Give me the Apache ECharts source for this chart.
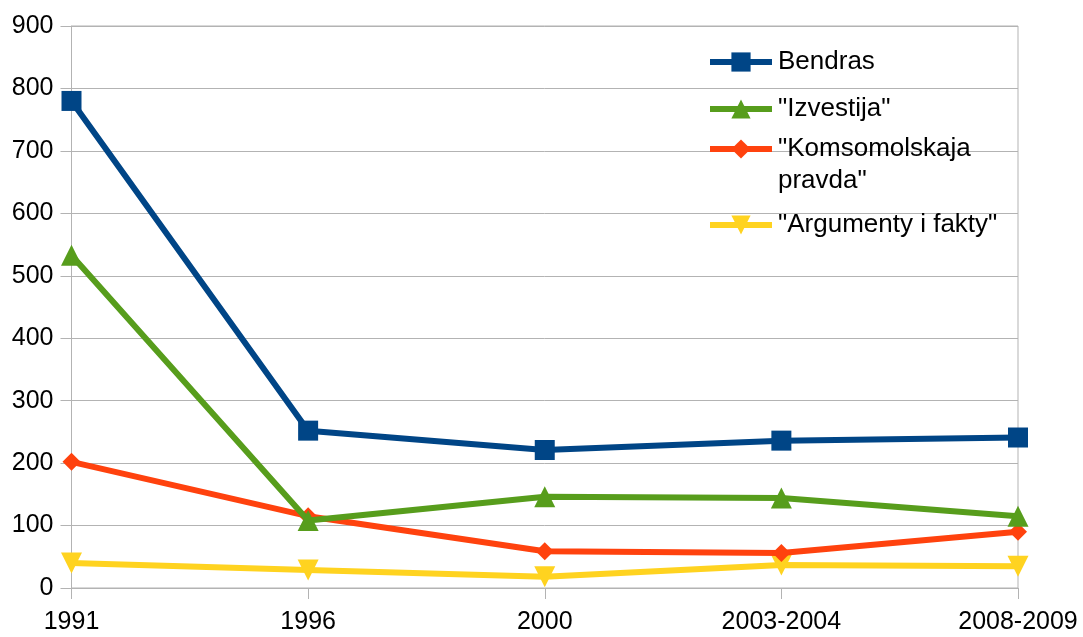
<!DOCTYPE html>
<html>
<head>
<meta charset="utf-8">
<script src="https://cdn.jsdelivr.net/npm/echarts@6.0.0/dist/echarts.min.js"></script>
<style>
  html, body { margin: 0; padding: 0; background: #fff; }
  #chart { width: 1083px; height: 637px; }
</style>
</head>
<body>
<div id="chart"></div>
<script>
// data
const categories = ['1991', '1996', '2000', '2003-2004', '2008-2009']
const bendras = [780, 252, 221, 236, 241]
const izvestija = [533, 108, 146, 144, 115]
const komsomolskaja = [202, 115, 59, 56, 90]
const argumenty = [40, 29, 18, 37, 35]

const names = ['Bendras', '"Izvestija"', '"Komsomolskaja pravda"', '"Argumenty i fakty"']
const colors = ['#004586', '#579d1c', '#ff420e', '#ffd320']
const symbols = ['rect', 'triangle', 'diamond', 'triangle']
const symbolSizes = [20, 21, 18, 21]
const rotates = [0, 0, 0, 180]
const values = [bendras, izvestija, komsomolskaja, argumenty]

const font = 'Liberation Sans, Arial, sans-serif'
const gridColor = '#b3b3b3'

const series = []
for (let i = 0; i < names.length; i++) {
  series.push({
    name: names[i],
    type: 'line',
    data: values[i],
    symbol: symbols[i],
    symbolSize: symbolSizes[i],
    symbolRotate: rotates[i],
    showAllSymbol: true,
    lineStyle: { width: 6, color: colors[i] },
    itemStyle: { color: colors[i] },
    z: 10 - i
  })
}

// one legend per entry; the two-line name gets an empty first line
// so that its icon sits on the "Komsomolskaja line
const legendTops = [46, 93, 101, 209]
const legends = []
for (let i = 0; i < names.length; i++) {
  legends.push({
    orient: 'vertical',
    left: 707,
    top: legendTops[i],
    padding: 0,
    itemWidth: 62,
    itemHeight: 24,
    data: [names[i]],
    formatter: (n) => n === '"Komsomolskaja pravda"' ? '\n"Komsomolskaja\npravda"' : n,
    lineStyle: { width: 6 },
    textStyle: {
      fontFamily: font,
      fontSize: 26,
      color: '#000',
      lineHeight: 32,
      padding: [0, 0, 0, 1]
    }
  })
}

const option = {
  animation: false,
  color: colors,
  grid: {
    left: 71.5,
    right: 65,
    top: 26,
    bottom: 49,
    show: true,
    borderColor: gridColor,
    borderWidth: 1
  },
  legend: legends,
  xAxis: {
    type: 'category',
    data: categories,
    boundaryGap: false,
    axisLine: { lineStyle: { color: gridColor, width: 1 } },
    axisTick: { show: true, length: 11, alignWithLabel: true, lineStyle: { color: gridColor } },
    axisLabel: { fontFamily: font, fontSize: 25, color: '#000', margin: 22 },
    splitLine: { show: false }
  },
  yAxis: {
    type: 'value',
    min: 0,
    max: 900,
    interval: 100,
    axisLine: { show: true, lineStyle: { color: gridColor, width: 1 } },
    axisTick: { show: true, length: 11, lineStyle: { color: gridColor } },
    axisLabel: { fontFamily: font, fontSize: 25, color: '#000', margin: 18 },
    splitLine: { show: true, lineStyle: { color: gridColor, width: 1 } }
  },
  series
}

const myChart = echarts.init(document.getElementById('chart'))
myChart.setOption(option)
</script>
</body>
</html>
